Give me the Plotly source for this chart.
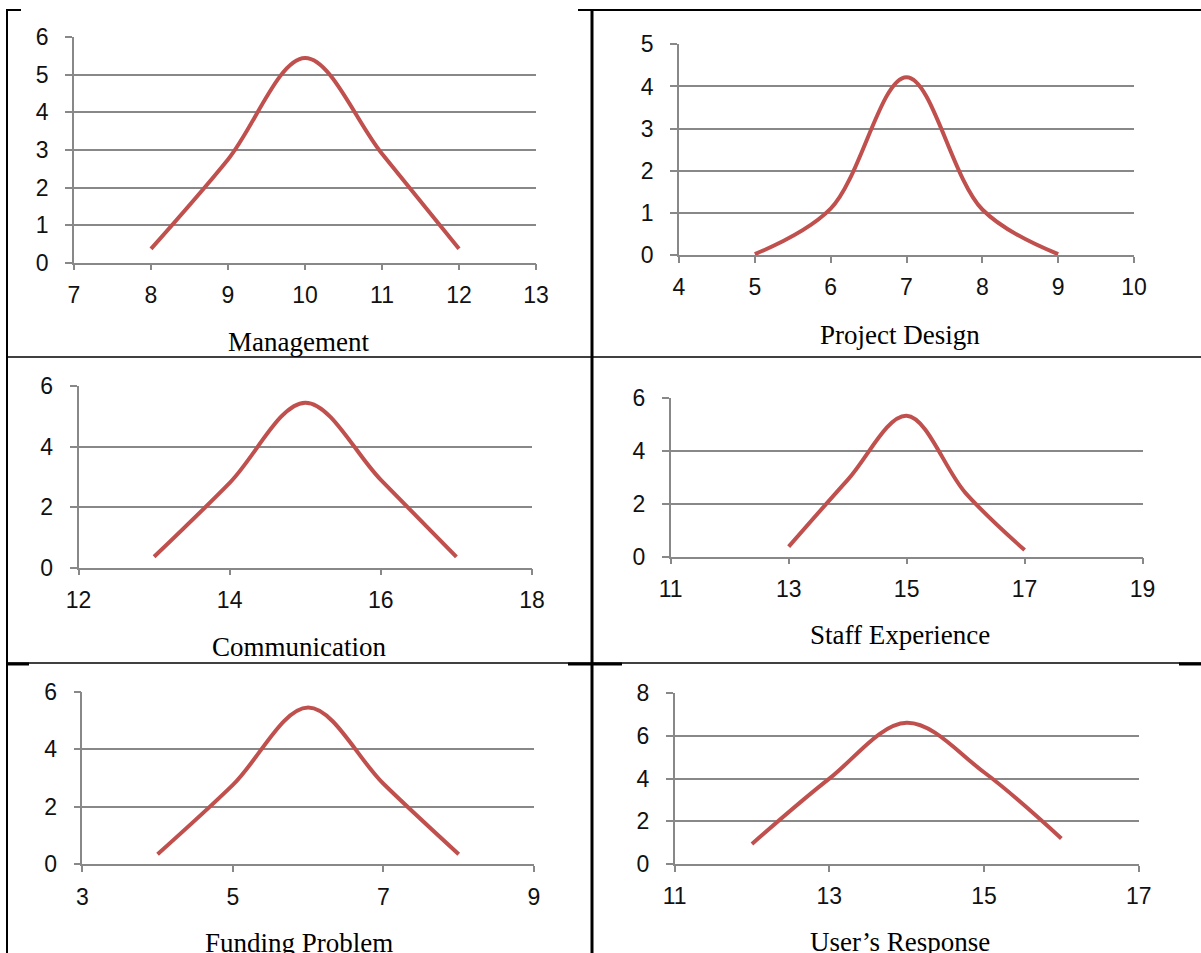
import plotly.graph_objects as go

W, H = 1201, 953

# ---------------- data ----------------
mgmt_x = [8, 9, 10, 11, 12]
mgmt_y = [0.37, 2.75, 5.45, 2.9, 0.37]

design_x = [5, 6, 7, 8, 9]
design_y = [0.02, 1.1, 4.22, 1.08, 0.02]

comm_x = [13, 14, 15, 16, 17]
comm_y = [0.36, 2.8, 5.45, 2.9, 0.36]

staff_x = [13, 14, 15, 16, 17]
staff_y = [0.38, 2.9, 5.32, 2.4, 0.25]

fund_x = [4, 5, 6, 7, 8]
fund_y = [0.35, 2.76, 5.45, 2.8, 0.35]

user_x = [12, 13, 14, 15, 16]
user_y = [0.94, 4.0, 6.62, 4.3, 1.2]

titles = ["Management", "Project Design", "Communication",
          "Staff Experience", "Funding Problem", "User\u2019s Response"]

x_ranges = [[7, 13], [4, 10], [12, 18], [11, 19], [3, 9], [11, 17]]
x_dticks = [1, 1, 2, 2, 2, 2]
y_ranges = [[0, 6], [0, 5], [0, 6], [0, 6], [0, 6], [0, 8]]
y_dticks = [1, 1, 2, 2, 2, 2]

series = [(mgmt_x, mgmt_y), (design_x, design_y), (comm_x, comm_y),
          (staff_x, staff_y), (fund_x, fund_y), (user_x, user_y)]

# plot-area boxes in pixels: (left, right, top, bottom)
boxes = [
    (74, 536, 37.3, 262.7),
    (679, 1134, 44.3, 255),
    (78.5, 532, 386, 567.7),
    (670.7, 1142.6, 397.7, 556.7),
    (82.3, 534, 691.7, 864.3),
    (674.6, 1138.7, 693.3, 864),
]
# title centres in pixels (x, y)
title_pos = [(298, 342), (900, 335), (298.5, 647), (900, 635), (298.5, 943), (900, 942)]


def px(x):
    return x / W


def py(y):
    return 1 - y / H


RED = "#C0504D"
GRID = "#888888"
TICKFONT = dict(family="Liberation Sans, Arial, sans-serif", size=23, color="#111111")

fig = go.Figure()
layout = dict(
    width=W, height=H,
    margin=dict(l=0, r=0, t=0, b=0, pad=0, autoexpand=False),
    paper_bgcolor="white", plot_bgcolor="white",
    showlegend=False,
)
annotations = []
for i, ((xs, ys), (l, r, t, b)) in enumerate(zip(series, boxes)):
    n = i + 1
    xa = "xaxis" if n == 1 else f"xaxis{n}"
    ya = "yaxis" if n == 1 else f"yaxis{n}"
    xref = "x" if n == 1 else f"x{n}"
    yref = "y" if n == 1 else f"y{n}"
    fig.add_trace(go.Scatter(
        x=xs, y=ys, mode="lines",
        line=dict(color=RED, width=4, shape="spline", smoothing=1.0),
        xaxis=xref, yaxis=yref, hoverinfo="skip",
    ))
    layout[xa] = dict(
        domain=[px(l), px(r)], range=x_ranges[i], dtick=x_dticks[i], tick0=x_ranges[i][0],
        anchor=yref, showgrid=False, zeroline=False, automargin=False,
        showline=True, linecolor=GRID, linewidth=1.5,
        ticks="outside", ticklen=6, tickcolor=GRID, tickwidth=1.5,
        tickfont=TICKFONT, ticklabelstandoff=5,
        fixedrange=True,
    )
    layout[ya] = dict(
        domain=[py(b), py(t)], range=y_ranges[i], dtick=y_dticks[i], tick0=0,
        anchor=xref, showgrid=True, gridcolor=GRID, gridwidth=1.5, zeroline=False,
        automargin=False,
        showline=True, linecolor=GRID, linewidth=1.5,
        ticks="outside", ticklen=7, tickcolor=GRID, tickwidth=1.5,
        tickfont=TICKFONT, ticklabelstandoff=12,
        fixedrange=True,
    )
    tx, ty = title_pos[i]
    annotations.append(dict(
        text=titles[i], x=px(tx), y=py(ty), xref="paper", yref="paper",
        xanchor="center", yanchor="middle", showarrow=False,
        font=dict(family="Liberation Serif, Times New Roman, serif", size=27, color="black"),
    ))

# table borders
shapes = []


def hline(x0, x1, y, w):
    shapes.append(dict(type="line", xref="paper", yref="paper",
                       x0=px(x0), x1=px(x1), y0=py(y), y1=py(y),
                       line=dict(color="black", width=w)))


def vline(x, y0, y1, w):
    shapes.append(dict(type="line", xref="paper", yref="paper",
                       x0=px(x), x1=px(x), y0=py(y0), y1=py(y1),
                       line=dict(color="black", width=w)))


vline(7, 9, 953, 2)
vline(592, 9, 953, 3)
hline(6, 21, 10, 2)
hline(578, 1201, 10, 2)
hline(7, 1201, 357, 1.5)
hline(7, 1201, 663, 1.5)
hline(7, 29, 664, 3)
hline(568, 622, 664, 3)
hline(1179, 1201, 664, 3)

layout["annotations"] = annotations
layout["shapes"] = shapes
fig.update_layout(**layout)

fig.write_html(
    "out.html",
    config={"displayModeBar": False},
    post_script="document.body.style.margin='0';document.body.style.padding='0';"
                "document.documentElement.style.overflow='hidden';",
)
